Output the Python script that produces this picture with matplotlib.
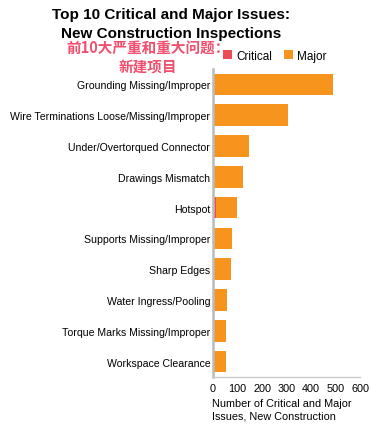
import numpy as np
import matplotlib.pyplot as plt

plt.rcParams['font.family'] = ['Liberation Sans', 'DejaVu Sans']

issues = ['Grounding Missing/Improper', 'Wire Terminations Loose/Missing/Improper',
          'Under/Overtorqued Connector', 'Drawings Mismatch', 'Hotspot',
          'Supports Missing/Improper', 'Sharp Edges', 'Water Ingress/Pooling',
          'Torque Marks Missing/Improper', 'Workspace Clearance']
critical = [2, 2, 0, 0, 12, 0, 0, 0, 0, 0]
major = [488, 304, 147, 122, 86, 78, 73, 57, 53, 53]

orange = '#F7941D'
red = '#EF4B55'

fig = plt.figure(figsize=(3.72, 4.27), dpi=100)
ax = fig.add_axes([213 / 372, 1 - 378 / 427, 147 / 372, (378 - 70) / 427])

y = np.arange(len(issues))
ax.barh(y, critical, height=0.7, color=red, label='Critical')
ax.barh(y, major, left=critical, height=0.7, color=orange, label='Major')

ax.set_yticks(y)
ax.set_yticklabels(issues, fontsize=7.6)
ax.set_ylim(len(issues) - 0.5, -0.5)
ax.set_xlim(0, 600)
ax.set_xticks(range(0, 601, 100))
ax.tick_params(axis='x', labelsize=7.8, length=0, pad=4)
ax.tick_params(axis='y', length=0, pad=2)

for s in ['top', 'right']:
    ax.spines[s].set_visible(False)
ax.spines['left'].set_color('#bbbbbb')
ax.spines['left'].set_linewidth(1.8)
ax.spines['bottom'].set_color('#cccccc')
ax.spines['bottom'].set_linewidth(1)

fig.text(212 / 372, 1 - 399 / 427,
         'Number of Critical and Major\nIssues, New Construction',
         fontsize=7.8, ha='left', va='top', linespacing=1.35)

fig.text(171 / 372, 1 - 8 / 427,
         'Top 10 Critical and Major Issues:\nNew Construction Inspections',
         fontsize=11, fontweight='bold', ha='center', va='top', linespacing=1.45)

fig.text(148 / 372, 1 - 40 / 427, '前10大严重和重大问题：\n新建项目',
         fontsize=10.5, fontweight='bold', color='#F0506E', ha='center', va='top',
         family=['Noto Sans CJK SC', 'DejaVu Sans'], linespacing=1.3)

ax.legend(loc='center left', bbox_to_anchor=(223 / 372, 1 - 57 / 427),
          bbox_transform=fig.transFigure, ncol=2, frameon=False,
          fontsize=8.5, handlelength=0.8, handleheight=0.8, handletextpad=0.3,
          columnspacing=1.0, borderaxespad=0, borderpad=0)

fig.savefig('out.png', dpi=100)
